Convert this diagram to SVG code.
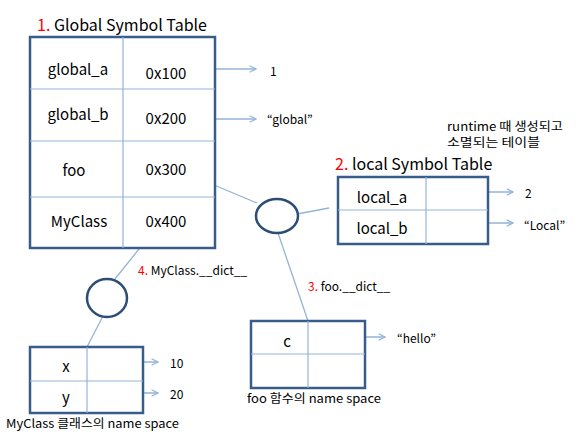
<svg xmlns="http://www.w3.org/2000/svg" width="581" height="445" viewBox="0 0 581 445">
<style>
.box{fill:#fff;stroke:#385d8a;stroke-width:2.5}
.in{stroke:#95b3d7;stroke-width:1.2;fill:none}
.ln{stroke:#95b3d7;stroke-width:1.3;fill:none}
.arr{stroke:#95b3d7;stroke-width:1.3;fill:none;marker-end:url(#ah)}
.circ{fill:#fff;stroke:#2c4d75;stroke-width:2.5}
text{font-family:"Noto Sans CJK KR","Noto Sans",sans-serif;fill:#000}
.c{font-size:15px;text-anchor:middle;dominant-baseline:central}
.s{font-size:12px;dominant-baseline:central}
.h{font-size:16px}
.n{font-size:12px}
.red{fill:#ff0000}
</style>
<defs>
<marker id="ah" viewBox="0 0 10 10" refX="9" refY="5" markerWidth="8" markerHeight="8" markerUnits="userSpaceOnUse" orient="auto">
<path d="M1,1 L9,5 L1,9" fill="none" stroke="#95b3d7" stroke-width="1.5"/>
</marker>
</defs>
<g id="connectors">
<line class="ln" x1="195" y1="177" x2="257" y2="203"/>
<line class="ln" x1="297" y1="214" x2="329" y2="208"/>
<line class="ln" x1="278" y1="233" x2="308" y2="321"/>
<line class="ln" x1="143" y1="244" x2="115" y2="279"/>
<line class="ln" x1="103" y1="316" x2="87" y2="347"/>
<line class="arr" x1="195" y1="69" x2="256" y2="69"/>
<line class="arr" x1="195" y1="119" x2="256" y2="119"/>
<line class="arr" x1="472" y1="192" x2="513" y2="192"/>
<line class="arr" x1="472" y1="223" x2="513" y2="223"/>
<line class="arr" x1="344" y1="337" x2="385" y2="337"/>
<line class="arr" x1="117" y1="362" x2="158" y2="362"/>
<line class="arr" x1="117" y1="393" x2="158" y2="393"/>
</g>
<g id="global-table">
<text class="h" x="37" y="31"><tspan class="red">1.</tspan> Global Symbol Table</text>
<rect class="box" x="30" y="37" width="185" height="211"/>
<line class="in" x1="123" y1="37" x2="123" y2="248"/>
<line class="in" x1="30" y1="89" x2="215" y2="89"/>
<line class="in" x1="30" y1="141" x2="215" y2="141"/>
<line class="in" x1="30" y1="197" x2="215" y2="197"/>
<text class="c" x="78" y="68">global_a</text>
<text class="c" x="166" y="72">0x100</text>
<text class="c" x="78" y="113">global_b</text>
<text class="c" x="166" y="117">0x200</text>
<text class="c" x="74" y="169">foo</text>
<text class="c" x="166" y="168">0x300</text>
<text class="c" x="79" y="220">MyClass</text>
<text class="c" x="166" y="220">0x400</text>
</g>
<g id="values-global">
<text class="s" x="270" y="70">1</text>
<text class="s" x="267" y="118">“global”</text>
</g>
<g id="circle-foo"><ellipse class="circ" cx="277" cy="216" rx="21" ry="17"/></g>
<g id="circle-myclass"><ellipse class="circ" cx="107" cy="298" rx="20" ry="19"/></g>
<g id="local-table">
<text class="n" x="447" y="131" textLength="116" lengthAdjust="spacingAndGlyphs">runtime 때 생성되고</text>
<text class="n" x="447" y="147" textLength="93" lengthAdjust="spacingAndGlyphs">소멸되는 테이블</text>
<text class="h" x="335" y="170"><tspan class="red">2.</tspan> local Symbol Table</text>
<rect class="box" x="338" y="177" width="150" height="67"/>
<line class="in" x1="426" y1="177" x2="426" y2="244"/>
<line class="in" x1="338" y1="210" x2="488" y2="210"/>
<text class="c" x="382" y="196">local_a</text>
<text class="c" x="382" y="227">local_b</text>
<text class="s" x="525" y="192">2</text>
<text class="s" x="524" y="224">“Local”</text>
</g>
<g id="foo-table">
<text class="n" x="308" y="291"><tspan class="red">3.</tspan> foo.__dict__</text>
<rect class="box" x="251" y="321" width="114" height="67"/>
<line class="in" x1="308" y1="321" x2="308" y2="388"/>
<line class="in" x1="251" y1="354" x2="365" y2="354"/>
<text class="c" x="287" y="340">c</text>
<text class="s" x="397" y="337">“hello”</text>
<text class="n" x="247" y="403" textLength="134" lengthAdjust="spacingAndGlyphs">foo 함수의 name space</text>
</g>
<g id="myclass-table">
<text class="n" x="138" y="275"><tspan class="red">4.</tspan> MyClass.__dict__</text>
<rect class="box" x="30" y="347" width="113" height="66"/>
<line class="in" x1="87" y1="347" x2="87" y2="413"/>
<line class="in" x1="30" y1="381" x2="143" y2="381"/>
<text class="c" x="66" y="365">x</text>
<text class="c" x="66" y="396">y</text>
<text class="s" x="170" y="362">10</text>
<text class="s" x="170" y="393">20</text>
<text class="n" x="6" y="428" textLength="173" lengthAdjust="spacingAndGlyphs">MyClass 클래스의 name space</text>
</g>
</svg>
